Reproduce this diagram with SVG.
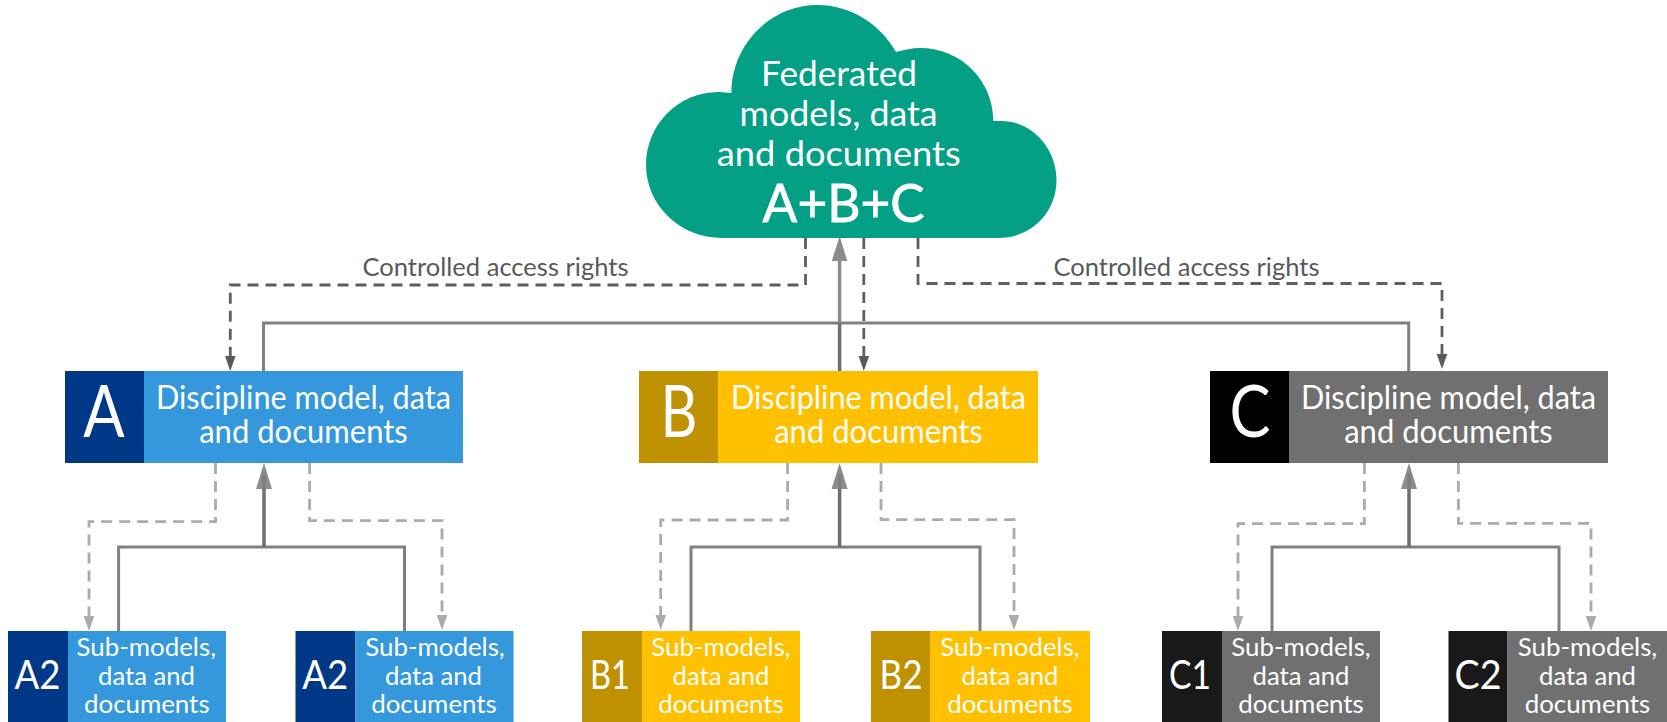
<svg xmlns="http://www.w3.org/2000/svg" width="1667" height="722" viewBox="0 0 1667 722">
<style>
text{font-family:Lato,"Open Sans","Liberation Sans",sans-serif;text-anchor:middle;fill:#fff}
.big{font-size:32px}
.sub{font-size:25.5px}
.ltr{font-size:71px}
.ltr2{font-size:40px}
.cl{font-size:35.5px}
.lab{font-size:25px;fill:#58595b}
.solid{fill:none;stroke:#808080;stroke-width:3}
.trunk{fill:none;stroke:#6e6e6e;stroke-width:3.5}
.d1{fill:none;stroke:#5f5f5f;stroke-width:2.8;stroke-dasharray:11 7}
.d2{fill:none;stroke:#ababab;stroke-width:2.8;stroke-dasharray:11 7}
.blue{fill:#3598dc}.navy{fill:#003888}
.yel{fill:#ffc000}.ochre{fill:#bf9000}
.gry{fill:#707070}.blk{fill:#000}.blk2{fill:#191919}
</style>
<defs>
<marker id="hd1" markerUnits="userSpaceOnUse" markerWidth="16" markerHeight="12" refX="0" refY="6" orient="auto"><path d="M0 .7L15 6L0 11.3Z" fill="#5a5a5a"/></marker>
<marker id="hd2" markerUnits="userSpaceOnUse" markerWidth="16" markerHeight="12" refX="0" refY="6" orient="auto"><path d="M0 .7L15 6L0 11.3Z" fill="#ababab"/></marker>
</defs>
<g id="connectors">
<path class="solid" d="M263.5 371V323H1408.7V371"/>
<path class="solid" d="M118.6 631V547H404.5V631"/>
<path class="solid" d="M691 631V547H980V631"/>
<path class="solid" d="M1272 631V547H1559V631"/>
<path d="M839.6 258V323" fill="none" stroke="#8c8c8c" stroke-width="3.5"/>
<path class="trunk" d="M839.6 323V371"/>
<path class="trunk" d="M264 547V474"/>
<path class="trunk" d="M839.6 547V474"/>
<path class="trunk" d="M1409 547V474"/>
<path d="M839.6 236L847.4 261H831.8Z" fill="#8c8c8c"/>
<path d="M264 463L272 489H256Z" fill="#808080" fill-opacity=".9"/>
<path d="M839.6 463L847.6 489H831.6Z" fill="#808080" fill-opacity=".9"/>
<path d="M1409 463L1417 489H1401Z" fill="#808080" fill-opacity=".9"/>
<path class="d1" marker-end="url(#hd1)" d="M805.5 238V285H230.3V356"/>
<path class="d1" marker-end="url(#hd1)" d="M863.8 238V356"/>
<path class="d1" marker-end="url(#hd1)" d="M918 238V283.5H1442V354"/>
<path class="d2" marker-end="url(#hd2)" d="M215.5 463V521.7H89V616"/>
<path class="d2" marker-end="url(#hd2)" d="M309.6 463V520.7H442V615"/>
<path class="d2" marker-end="url(#hd2)" d="M787.6 463V520H660.7V615"/>
<path class="d2" marker-end="url(#hd2)" d="M881 463V519.7H1014V615"/>
<path class="d2" marker-end="url(#hd2)" d="M1364.4 463V523.7H1238V616"/>
<path class="d2" marker-end="url(#hd2)" d="M1458.4 463V523.3H1591V616"/>
<text class="lab" x="495.5" y="275.7" textLength="266" lengthAdjust="spacingAndGlyphs">Controlled access rights</text>
<text class="lab" x="1186.5" y="275.7" textLength="266" lengthAdjust="spacingAndGlyphs">Controlled access rights</text>
</g>
<g id="cloud">
<path fill="#04a086" d="M722 238C680 238 646 205 646 165C646 125 678 92 718.6 92L731.4 93C731.4 45 770 5 817 5C851 5 880 24 896 52C904 50 912 48 920 48C961 48 993 80 993.4 121L1001 121C1032 121 1056.5 148 1056.5 180C1056.5 212 1032 238 998 238Z"/>
<text class="cl" x="839" y="85.7" textLength="156" lengthAdjust="spacingAndGlyphs">Federated</text>
<text class="cl" x="838.6" y="125.7" textLength="198" lengthAdjust="spacingAndGlyphs">models, data</text>
<text class="cl" x="838.8" y="165.7" textLength="244" lengthAdjust="spacingAndGlyphs">and documents</text>
<text x="843.6" y="222" font-size="52" stroke="#fff" stroke-width=".8" textLength="162" lengthAdjust="spacingAndGlyphs">A+B+C</text>
</g>
<g id="node-A">
<rect class="navy" x="65" y="371" width="79" height="92"/><rect class="blue" x="144" y="371" width="319" height="92"/>
<text class="ltr" x="104" y="437.3" textLength="41.4" lengthAdjust="spacingAndGlyphs">A</text>
<text class="big" x="303.5" y="409.3" textLength="295" lengthAdjust="spacingAndGlyphs">Discipline model, data</text>
<text class="big" x="303.5" y="442.7" textLength="208.6" lengthAdjust="spacingAndGlyphs">and documents</text>
</g>
<g id="node-B">
<rect class="ochre" x="639" y="371" width="79" height="92"/><rect class="yel" x="718" y="371" width="320" height="92"/>
<text class="ltr" x="679" y="437.3" textLength="37" lengthAdjust="spacingAndGlyphs">B</text>
<text class="big" x="878.5" y="409.3" textLength="295" lengthAdjust="spacingAndGlyphs">Discipline model, data</text>
<text class="big" x="878.5" y="442.7" textLength="208.6" lengthAdjust="spacingAndGlyphs">and documents</text>
</g>
<g id="node-C">
<rect class="blk" x="1210" y="371" width="79" height="92"/><rect class="gry" x="1289" y="371" width="319" height="92"/>
<text class="ltr" x="1250" y="437.3" textLength="41" lengthAdjust="spacingAndGlyphs">C</text>
<text class="big" x="1448.5" y="409.3" textLength="295" lengthAdjust="spacingAndGlyphs">Discipline model, data</text>
<text class="big" x="1448.5" y="442.7" textLength="208.6" lengthAdjust="spacingAndGlyphs">and documents</text>
</g>
<g id="node-A2-left">
<rect class="navy" x="8" y="631" width="60" height="91"/><rect class="blue" x="68" y="631" width="158" height="91"/>
<text class="ltr2" x="37.4" y="688.7" textLength="46" lengthAdjust="spacingAndGlyphs">A2</text>
<text class="sub" x="146.3" y="656" textLength="139.5" lengthAdjust="spacingAndGlyphs">Sub-models,</text>
<text class="sub" x="146.5" y="685" textLength="97" lengthAdjust="spacingAndGlyphs">data and</text>
<text class="sub" x="146.8" y="712.7" textLength="125.6" lengthAdjust="spacingAndGlyphs">documents</text>
</g>
<g id="node-A2-right">
<rect class="navy" x="295.5" y="631" width="60" height="91"/><rect class="blue" x="355.5" y="631" width="158" height="91"/>
<text class="ltr2" x="325.2" y="688.7" textLength="46" lengthAdjust="spacingAndGlyphs">A2</text>
<text class="sub" x="435" y="656" textLength="139.5" lengthAdjust="spacingAndGlyphs">Sub-models,</text>
<text class="sub" x="433.5" y="685" textLength="97" lengthAdjust="spacingAndGlyphs">data and</text>
<text class="sub" x="434" y="712.7" textLength="125.6" lengthAdjust="spacingAndGlyphs">documents</text>
</g>
<g id="node-B1">
<rect class="ochre" x="582" y="631" width="60" height="91"/><rect class="yel" x="642" y="631" width="158" height="91"/>
<text class="ltr2" x="610" y="688.7" textLength="40" lengthAdjust="spacingAndGlyphs">B1</text>
<text class="sub" x="721" y="656" textLength="139.5" lengthAdjust="spacingAndGlyphs">Sub-models,</text>
<text class="sub" x="721" y="685" textLength="97" lengthAdjust="spacingAndGlyphs">data and</text>
<text class="sub" x="721" y="712.7" textLength="125.6" lengthAdjust="spacingAndGlyphs">documents</text>
</g>
<g id="node-B2">
<rect class="ochre" x="871" y="631" width="59" height="91"/><rect class="yel" x="930" y="631" width="160" height="91"/>
<text class="ltr2" x="901" y="688.7" textLength="43" lengthAdjust="spacingAndGlyphs">B2</text>
<text class="sub" x="1010" y="656" textLength="139.5" lengthAdjust="spacingAndGlyphs">Sub-models,</text>
<text class="sub" x="1010" y="685" textLength="97" lengthAdjust="spacingAndGlyphs">data and</text>
<text class="sub" x="1010" y="712.7" textLength="125.6" lengthAdjust="spacingAndGlyphs">documents</text>
</g>
<g id="node-C1">
<rect class="blk2" x="1162" y="631" width="60" height="91"/><rect class="gry" x="1222" y="631" width="158" height="91"/>
<text class="ltr2" x="1190" y="688.7" textLength="42" lengthAdjust="spacingAndGlyphs">C1</text>
<text class="sub" x="1301" y="656" textLength="139.5" lengthAdjust="spacingAndGlyphs">Sub-models,</text>
<text class="sub" x="1301" y="685" textLength="97" lengthAdjust="spacingAndGlyphs">data and</text>
<text class="sub" x="1301" y="712.7" textLength="125.6" lengthAdjust="spacingAndGlyphs">documents</text>
</g>
<g id="node-C2">
<rect class="blk2" x="1448.5" y="631" width="59" height="91"/><rect class="gry" x="1507.5" y="631" width="159.5" height="91"/>
<text class="ltr2" x="1478" y="688.7" textLength="47" lengthAdjust="spacingAndGlyphs">C2</text>
<text class="sub" x="1587.5" y="656" textLength="139.5" lengthAdjust="spacingAndGlyphs">Sub-models,</text>
<text class="sub" x="1587.5" y="685" textLength="97" lengthAdjust="spacingAndGlyphs">data and</text>
<text class="sub" x="1587.5" y="712.7" textLength="125.6" lengthAdjust="spacingAndGlyphs">documents</text>
</g>
</svg>
